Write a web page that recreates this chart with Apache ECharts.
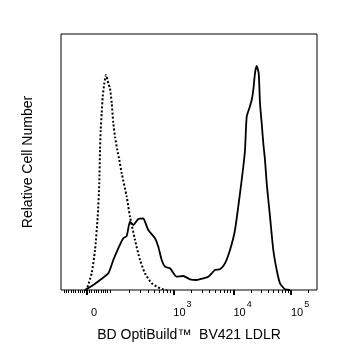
<!DOCTYPE html>
<html>
<head>
<meta charset="utf-8">
<script src="https://cdn.jsdelivr.net/npm/echarts@6/dist/echarts.min.js"></script>
<style>html,body{margin:0;padding:0;background:#fff}#c{width:337px;height:360px}</style>
</head>
<body>
<div id="c"></div>
<script>
// Histogram channels (display scale 0..256) and relative counts
const solidChannels = [24, 32.3, 39, 47.3, 52.3, 57.3, 62.3, 65.7, 69, 72.3, 77.3, 82.3, 84, 87.3, 94, 97.3, 100.7, 104, 109, 115.7, 122.3, 129, 135.7, 142.3, 147.3, 154, 159, 164, 169, 174, 179, 182.3, 184, 185.7, 188.3, 190.7, 192.3, 194, 195.7, 197.7, 199, 200.7, 202.3, 204, 205.7, 209, 212.3, 215.7, 219, 224, 229];
const solidCounts   = [0, 5, 10, 16.7, 30, 41.7, 51.7, 54, 68.3, 65, 71, 71.7, 68.3, 60, 51.7, 43.3, 30, 23.3, 21.7, 13.3, 14, 10.7, 10, 11.7, 13.3, 20, 20.7, 26.7, 40, 60, 96.7, 123.3, 140, 173.3, 181.7, 190, 200, 216.7, 224, 216.7, 186.7, 166.7, 146.7, 130, 106.7, 73.3, 40, 20, 6.7, 0.7, 0];
const isoChannels = [24, 25.7, 30.7, 34, 36.7, 38.3, 39, 39.7, 40.7, 41.7, 43.3, 45, 47.3, 49, 50.7, 52.3, 54, 56.3, 58.3, 60.7, 65.7, 69, 74, 79, 84, 90.7, 99, 105.7];
const isoCounts   = [0, 0.7, 17, 40, 73.3, 107, 140, 160, 177, 193.3, 206.7, 215, 206.7, 201.7, 187, 167, 153.3, 140, 130, 116.7, 93.3, 73.3, 50, 30, 16.7, 6.7, 1.7, 0];

// Axis tick values (fluorescence units) and labels
const majorTickValues = [0, 1e3, 1e4, 1e5];
const majorTickLabels = ['0', '10^3', '10^4', '10^5'];
const minorTickValues = [-100,-90,-80,-70,-60,-50,-40,-30,-20,-10,10,20,30,40,50,60,70,80,90,100,
  200,300,400,500,600,700,800,900,2000,3000,4000,5000,6000,7000,8000,9000,
  20000,30000,40000,50000,60000,70000,80000,90000,200000];

// biexponential-like display transform (value -> channel)
function toChannel(v) {
  if (Math.abs(v) <= 100) return 26 + v * 0.23;
  const a = [[100, 49], [1000, 112.3], [1e4, 172.5], [1e5, 230], [1e6, 288]];
  for (let i = 0; i < a.length - 1; i++) {
    if (v <= a[i + 1][0]) {
      const t = (Math.log10(v) - Math.log10(a[i][0])) / (Math.log10(a[i + 1][0]) - Math.log10(a[i][0]));
      return a[i][1] + t * (a[i + 1][1] - a[i][1]);
    }
  }
  return 256;
}
const majorPos = majorTickValues.map(toChannel);
const minorPos = minorTickValues.map(toChannel);

function labelFor(pos) {
  let best = 0;
  majorPos.forEach((p, i) => { if (Math.abs(p - pos) < Math.abs(majorPos[best] - pos)) best = i; });
  const s = majorTickLabels[best];
  if (s === '0') return '{z|0}';
  const parts = s.split('^');
  return '{n|' + parts[0] + '}{s|' + parts[1] + '}';
}

const FONT = 'Liberation Sans, Arial, sans-serif';
const chart = echarts.init(document.getElementById('c'), null, {renderer: 'canvas'});
chart.setOption({
  animation: false,
  backgroundColor: '#fff',
  grid: {left: 61, right: 20, top: 34, bottom: 70, show: true, borderColor: '#000', borderWidth: 1, backgroundColor: 'transparent'},
  xAxis: [{
    type: 'value', min: 0, max: 256, position: 'bottom',
    axisLine: {show: false}, splitLine: {show: false},
    axisTick: {show: true, customValues: majorPos, length: 5, lineStyle: {color: '#000', width: 2}},
    axisLabel: {
      show: true, customValues: majorPos, formatter: labelFor, align: 'left', margin: 10,
      fontFamily: FONT, color: '#000',
      rich: {
        n: {fontSize: 11, fontFamily: FONT, color: '#000', verticalAlign: 'bottom', lineHeight: 18},
        s: {fontSize: 9, fontFamily: FONT, color: '#000', verticalAlign: 'top', lineHeight: 16, padding: [0, 0, 0, 1]},
        z: {fontSize: 11, fontFamily: FONT, color: '#000', padding: [0, 0, 0, 4], verticalAlign: 'bottom', lineHeight: 18}
      }
    },
    name: 'BD OptiBuild\u2122  BV421 LDLR', nameLocation: 'middle', nameGap: 38,
    nameTextStyle: {fontSize: 14, fontFamily: FONT, color: '#000'}
  }, {
    type: 'value', min: 0, max: 256, position: 'bottom',
    axisLine: {show: false}, splitLine: {show: false}, axisLabel: {show: false},
    axisTick: {show: true, customValues: minorPos, length: 3, lineStyle: {color: '#000', width: 1}}
  }],
  yAxis: {
    type: 'value', min: 0, max: 256,
    axisLine: {show: false}, axisTick: {show: false}, axisLabel: {show: false}, splitLine: {show: false},
    name: 'Relative Cell Number', nameLocation: 'middle', nameGap: 26,
    nameTextStyle: {fontSize: 14, fontFamily: FONT, color: '#000'}
  },
  series: [{
    name: 'Isotype', type: 'line', xAxisIndex: 0, showSymbol: false, smooth: 0.2,
    data: isoChannels.map((x, i) => [x, isoCounts[i]]),
    lineStyle: {color: '#000', width: 2, type: [2, 2]}
  }, {
    name: 'LDLR', type: 'line', xAxisIndex: 0, showSymbol: false, smooth: 0.2,
    data: solidChannels.map((x, i) => [x, solidCounts[i]]),
    lineStyle: {color: '#000', width: 1.8}
  }]
});
</script>
</body>
</html>
